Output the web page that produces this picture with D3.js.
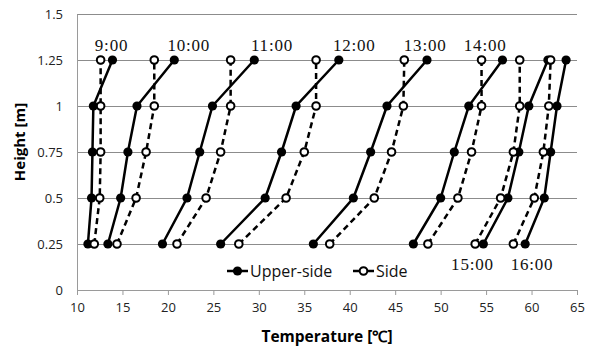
<!DOCTYPE html>
<html><head><meta charset="utf-8">
<script src="https://cdn.jsdelivr.net/npm/d3@7"></script>
<style>body{margin:0;background:#fff}svg{display:block}</style>
</head><body><div id="chart"></div>
<script>
const heights = [0.25, 0.5, 0.75, 1.0, 1.25];
const times = ["9:00","10:00","11:00","12:00","13:00","14:00","15:00","16:00"];
const upperSide = [
  [11.2, 11.6, 11.7, 11.8, 13.9],
  [13.4, 14.8, 15.6, 16.6, 20.7],
  [19.4, 22.1, 23.5, 24.9, 29.5],
  [25.8, 30.7, 32.5, 34.1, 38.8],
  [36.0, 40.4, 42.3, 44.1, 48.5],
  [47.0, 50.0, 51.5, 53.1, 56.8],
  [54.7, 57.4, 58.6, 59.7, 61.8],
  [59.3, 61.4, 62.1, 62.8, 63.8]
];
const side = [
  [11.9, 12.5, 12.6, 12.6, 12.6],
  [14.4, 16.5, 17.6, 18.5, 18.5],
  [21.0, 24.2, 25.8, 26.9, 26.9],
  [27.8, 33.0, 35.0, 36.3, 36.3],
  [37.8, 42.7, 44.6, 45.9, 46.0],
  [48.6, 51.9, 53.4, 54.5, 54.5],
  [53.8, 56.6, 58.0, 58.7, 58.7],
  [58.0, 60.3, 61.3, 61.9, 62.1]
];
const xTicks = [10,15,20,25,30,35,40,45,50,55,60,65];
const yTicks = [0,0.25,0.5,0.75,1,1.25,1.5];
const seriesNames = ["Upper-side","Side"];
// annotation anchors for time labels (temperature, height)
const timeLabelAnchors = [[13.8,1.30],[22.3,1.30],[31.45,1.30],[40.5,1.30],[48.3,1.30],[54.9,1.30],[53.5,0.11],[60.05,0.11]];

const W = 591, H = 352;
const m = {left:77, right:14, top:14, bottom:62};
const svg = d3.select("#chart").append("svg").attr("width",W).attr("height",H);
const x = d3.scaleLinear().domain([10,65]).range([m.left, W-m.right]);
const y = d3.scaleLinear().domain([0,1.5]).range([H-m.bottom, m.top]);

// gridlines
svg.append("g").selectAll("line").data(yTicks.filter(d=>d>0)).join("line")
  .attr("x1",x(10)).attr("x2",x(65)).attr("y1",d=>y(d)).attr("y2",d=>y(d))
  .attr("stroke","#8c8c8c").attr("stroke-width",1).attr("shape-rendering","crispEdges");

const tickFont = "'Open Sans', sans-serif";
const gx = svg.append("g").attr("transform",`translate(0,${y(0)})`)
  .call(d3.axisBottom(x).tickValues(xTicks).tickSize(5).tickSizeOuter(0).tickPadding(8));
const gy = svg.append("g").attr("transform",`translate(${x(10)},0)`)
  .call(d3.axisLeft(y).tickValues(yTicks).tickSize(5).tickSizeOuter(0).tickPadding(9).tickFormat(d=>String(d)));
[gx,gy].forEach(g=>{
  g.select(".domain").attr("stroke","#9a9a9a");
  g.selectAll(".tick line").attr("stroke","#9a9a9a");
  g.selectAll(".tick text").attr("fill","#222").style("font-family",tickFont).style("font-size","13px");
});
gy.selectAll(".tick line").remove();

// lines
const line = d3.line().x(d=>x(d[0])).y(d=>y(d[1]));
times.forEach((t,i)=>{
  const up = upperSide[i].map((v,j)=>[v,heights[j]]);
  const sd = side[i].map((v,j)=>[v,heights[j]]);
  const g = svg.append("g");
  g.append("path").datum(up).attr("d",line).attr("fill","none").attr("stroke","#000").attr("stroke-width",2.5);
  g.append("path").datum(sd).attr("d",line).attr("fill","none").attr("stroke","#000").attr("stroke-width",2.5).attr("stroke-dasharray","6,4");
  g.selectAll(".u").data(up).join("circle").attr("cx",d=>x(d[0])).attr("cy",d=>y(d[1])).attr("r",4.6).attr("fill","#000");
  g.selectAll(".s").data(sd).join("circle").attr("cx",d=>x(d[0])).attr("cy",d=>y(d[1])).attr("r",3.8).attr("fill","#fff").attr("stroke","#000").attr("stroke-width",2);
});

// time labels
svg.append("g").selectAll("text").data(times).join("text")
  .attr("x",(d,i)=>x(timeLabelAnchors[i][0])).attr("y",(d,i)=>y(timeLabelAnchors[i][1]))
  .attr("text-anchor","middle").style("font-family","'Liberation Serif', serif").style("font-size","17px")
  .style("letter-spacing","0.8px").attr("fill","#111").text(d=>d);

// legend
const lg = svg.append("g").attr("transform","translate(227,271)");
seriesNames.forEach((n,i)=>{
  const ox = i===0 ? 0 : 126;
  const gg = lg.append("g").attr("transform",`translate(${ox},0)`);
  gg.append("line").attr("x1",0).attr("x2",21).attr("y1",0).attr("y2",0).attr("stroke","#000").attr("stroke-width",2.5);
  if(i===0) gg.append("circle").attr("cx",10.5).attr("cy",0).attr("r",4.6).attr("fill","#000");
  else gg.append("circle").attr("cx",10.5).attr("cy",0).attr("r",3.8).attr("fill","#fff").attr("stroke","#000").attr("stroke-width",2);
  gg.append("text").attr("x",23).attr("y",6).style("font-family",tickFont).style("font-size","16px").attr("fill","#111").text(n);
});

// axis titles
svg.append("text").attr("x",(x(10)+x(65))/2).attr("y",342).attr("text-anchor","middle")
  .style("font-family",tickFont).style("font-weight","bold").style("font-size","15.5px").text("Temperature [℃]");
svg.append("text").attr("transform",`translate(25,142) rotate(-90)`).attr("text-anchor","middle")
  .style("font-family",tickFont).style("font-weight","bold").style("font-size","15px").text("Height [m]");
</script></body></html>
